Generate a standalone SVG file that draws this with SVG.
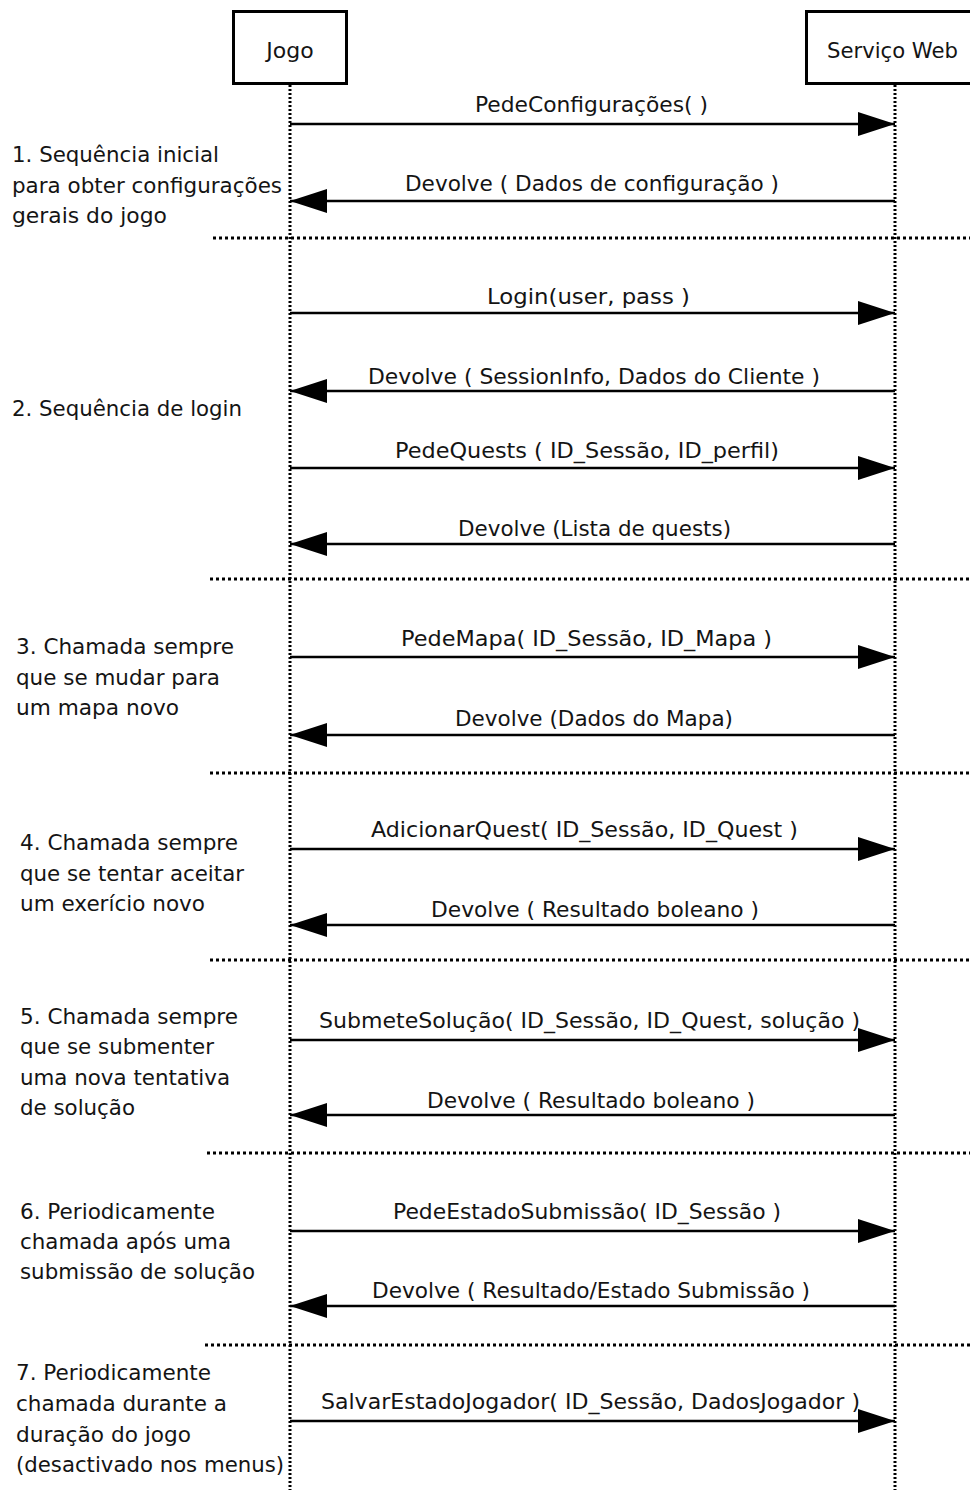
<svg xmlns="http://www.w3.org/2000/svg" width="970" height="1490" viewBox="0 0 970 1490">
  <style>
    text { font-family: "DejaVu Sans", "Liberation Sans", sans-serif; font-size: 22px; fill: #141414; }
    .box { fill: #ffffff; stroke: #000000; stroke-width: 3; }
    .life { stroke: #000000; stroke-width: 3; stroke-dasharray: 2 2; fill: none; }
    .sep { stroke: #000000; stroke-width: 3; stroke-dasharray: 3 3; fill: none; }
    .msg { stroke: #000000; stroke-width: 2.5; fill: none; marker-end: url(#head); }
  </style>
  <defs>
    <marker id="head" markerUnits="userSpaceOnUse" viewBox="0 0 37 24" markerWidth="37" markerHeight="24" refX="37" refY="12" orient="auto">
      <path d="M0,0 L37,12 L0,24 Z" fill="#000000"/>
    </marker>
  </defs>
  <rect width="970" height="1490" fill="#ffffff"/>

  <!-- participants -->
  <g id="jogo">
    <rect class="box" x="233.5" y="11.5" width="113" height="72"/>
    <text x="290" y="58" text-anchor="middle">Jogo</text>
  </g>
  <g id="servico-web">
    <rect class="box" x="806.5" y="11.5" width="200" height="72"/>
    <text x="827" y="58" textLength="131" lengthAdjust="spacingAndGlyphs">Serviço Web</text>
  </g>

  <!-- lifelines and section separators -->
  <g id="lifelines">
    <line class="life" x1="290" y1="85" x2="290" y2="1490"/>
    <line class="life" x1="895" y1="85" x2="895" y2="1490"/>
  </g>
  <g id="separators">
    <line class="sep" x1="213" y1="238" x2="970" y2="238"/>
    <line class="sep" x1="210" y1="579" x2="970" y2="579"/>
    <line class="sep" x1="210" y1="773" x2="970" y2="773"/>
    <line class="sep" x1="210" y1="960" x2="970" y2="960"/>
    <line class="sep" x1="207" y1="1153" x2="970" y2="1153"/>
    <line class="sep" x1="205" y1="1345" x2="970" y2="1345"/>
  </g>

  <!-- messages -->
  <g id="connectors">
    <line class="msg" x1="290" y1="124" x2="895" y2="124"/>
    <line class="msg" x1="895" y1="201" x2="290" y2="201"/>
    <line class="msg" x1="290" y1="313" x2="895" y2="313"/>
    <line class="msg" x1="895" y1="391" x2="290" y2="391"/>
    <line class="msg" x1="290" y1="468" x2="895" y2="468"/>
    <line class="msg" x1="895" y1="544" x2="290" y2="544"/>
    <line class="msg" x1="290" y1="657" x2="895" y2="657"/>
    <line class="msg" x1="895" y1="735" x2="290" y2="735"/>
    <line class="msg" x1="290" y1="849" x2="895" y2="849"/>
    <line class="msg" x1="895" y1="925" x2="290" y2="925"/>
    <line class="msg" x1="290" y1="1040" x2="895" y2="1040"/>
    <line class="msg" x1="895" y1="1115" x2="290" y2="1115"/>
    <line class="msg" x1="290" y1="1231" x2="895" y2="1231"/>
    <line class="msg" x1="895" y1="1306" x2="290" y2="1306"/>
    <line class="msg" x1="290" y1="1421" x2="895" y2="1421"/>
  </g>

  <!-- message labels -->
  <g id="message-labels">
    <text x="475" y="112" textLength="233" lengthAdjust="spacingAndGlyphs">PedeConfigurações( )</text>
    <text x="405" y="191" textLength="374" lengthAdjust="spacingAndGlyphs">Devolve ( Dados de configuração )</text>
    <text x="487" y="304" textLength="203" lengthAdjust="spacingAndGlyphs">Login(user, pass )</text>
    <text x="368" y="384" textLength="452" lengthAdjust="spacingAndGlyphs">Devolve ( SessionInfo, Dados do Cliente )</text>
    <text x="395" y="458" textLength="384" lengthAdjust="spacingAndGlyphs">PedeQuests ( ID_Sessão, ID_perfil)</text>
    <text x="458" y="536" textLength="273" lengthAdjust="spacingAndGlyphs">Devolve (Lista de quests)</text>
    <text x="401" y="646" textLength="371" lengthAdjust="spacingAndGlyphs">PedeMapa( ID_Sessão, ID_Mapa )</text>
    <text x="455" y="726" textLength="278" lengthAdjust="spacingAndGlyphs">Devolve (Dados do Mapa)</text>
    <text x="371" y="837" textLength="427" lengthAdjust="spacingAndGlyphs">AdicionarQuest( ID_Sessão, ID_Quest )</text>
    <text x="431" y="917" textLength="328" lengthAdjust="spacingAndGlyphs">Devolve ( Resultado boleano )</text>
    <text x="319" y="1028" textLength="541" lengthAdjust="spacingAndGlyphs">SubmeteSolução( ID_Sessão, ID_Quest, solução )</text>
    <text x="427" y="1108" textLength="328" lengthAdjust="spacingAndGlyphs">Devolve ( Resultado boleano )</text>
    <text x="393" y="1219" textLength="388" lengthAdjust="spacingAndGlyphs">PedeEstadoSubmissão( ID_Sessão )</text>
    <text x="372" y="1298" textLength="438" lengthAdjust="spacingAndGlyphs">Devolve ( Resultado/Estado Submissão )</text>
    <text x="321" y="1409" textLength="539" lengthAdjust="spacingAndGlyphs">SalvarEstadoJogador( ID_Sessão, DadosJogador )</text>
  </g>

  <!-- section notes -->
  <g id="section-notes">
    <text x="12" y="162" textLength="207" lengthAdjust="spacingAndGlyphs">1. Sequência inicial</text>
    <text x="12" y="193" textLength="270" lengthAdjust="spacingAndGlyphs">para obter configurações</text>
    <text x="12" y="223" textLength="155" lengthAdjust="spacingAndGlyphs">gerais do jogo</text>

    <text x="12" y="416" textLength="230" lengthAdjust="spacingAndGlyphs">2. Sequência de login</text>

    <text x="16" y="654" textLength="218" lengthAdjust="spacingAndGlyphs">3. Chamada sempre</text>
    <text x="16" y="685" textLength="204" lengthAdjust="spacingAndGlyphs">que se mudar para</text>
    <text x="16" y="715" textLength="163" lengthAdjust="spacingAndGlyphs">um mapa novo</text>

    <text x="20" y="850" textLength="218" lengthAdjust="spacingAndGlyphs">4. Chamada sempre</text>
    <text x="20" y="881" textLength="224" lengthAdjust="spacingAndGlyphs">que se tentar aceitar</text>
    <text x="20" y="911" textLength="185" lengthAdjust="spacingAndGlyphs">um exerício novo</text>

    <text x="20" y="1024" textLength="218" lengthAdjust="spacingAndGlyphs">5. Chamada sempre</text>
    <text x="20" y="1054" textLength="194" lengthAdjust="spacingAndGlyphs">que se submenter</text>
    <text x="20" y="1085" textLength="210" lengthAdjust="spacingAndGlyphs">uma nova tentativa</text>
    <text x="20" y="1115" textLength="115" lengthAdjust="spacingAndGlyphs">de solução</text>

    <text x="20" y="1219" textLength="195" lengthAdjust="spacingAndGlyphs">6. Periodicamente</text>
    <text x="20" y="1249" textLength="211" lengthAdjust="spacingAndGlyphs">chamada após uma</text>
    <text x="20" y="1279" textLength="235" lengthAdjust="spacingAndGlyphs">submissão de solução</text>

    <text x="16" y="1380" textLength="195" lengthAdjust="spacingAndGlyphs">7. Periodicamente</text>
    <text x="16" y="1411" textLength="211" lengthAdjust="spacingAndGlyphs">chamada durante a</text>
    <text x="16" y="1442" textLength="175" lengthAdjust="spacingAndGlyphs">duração do jogo</text>
    <text x="16" y="1472" textLength="268" lengthAdjust="spacingAndGlyphs">(desactivado nos menus)</text>
  </g>
</svg>
